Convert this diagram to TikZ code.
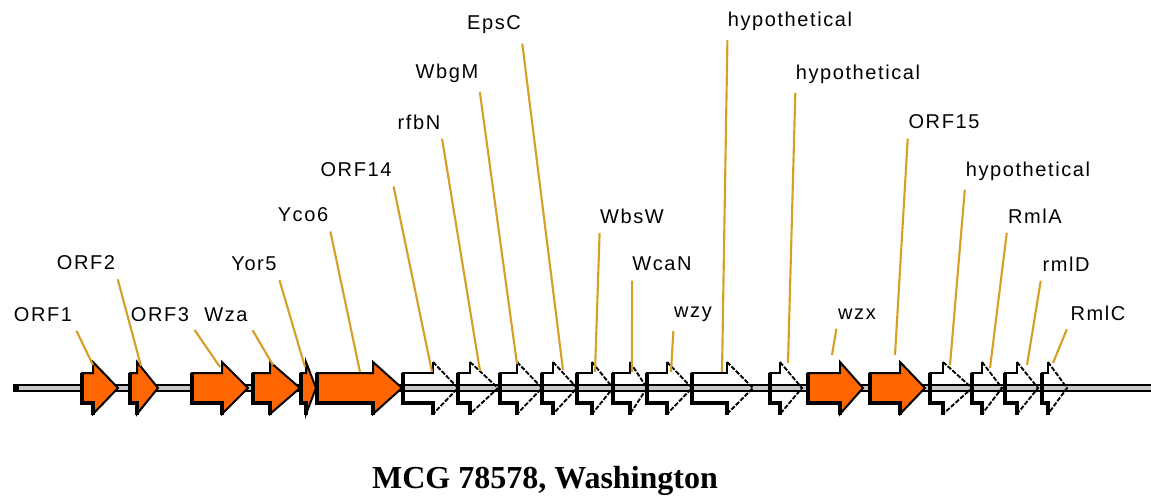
\documentclass[tikz,border=0pt]{standalone}
\usepackage{fontspec}
\setmainfont{Liberation Serif}
\newfontfamily\lblfont[LetterSpace=8]{Liberation Sans}
\usetikzlibrary{positioning}
\definecolor{orf}{RGB}{255,102,0}
\definecolor{lead}{RGB}{214,160,40}
\definecolor{axisgray}{RGB}{200,200,200}

\begin{document}
\begin{tikzpicture}[x=0.75pt, y=-0.75pt,
  lbl/.style={font=\lblfont\fontsize{15}{15}\selectfont, inner sep=0pt},
  leader/.style={lead, line width=1.6pt, shorten <=7pt},
  gene/.style={draw=black, line width=1.5pt, line join=miter},
  shade/.style={line width=2.6pt, line join=miter},
  headline/.style={line width=1.4pt, dash pattern=on 3.5pt off 1.2pt}]
\useasboundingbox (0,0) rectangle (1151,497);

% backbone
\draw[line width=5.4pt] (13,388) -- (1151,388);
\draw[axisgray, line width=2.4pt] (19,388) -- (1151,388);

% orange genes: start / head start / tip
\foreach \a/\b/\c in {82/93/118, 130/137/158, 192/222/248, 253/270/300,
    301/306/316, 317/373/402, 808/840/863, 870/900/925}{
  \draw[gene, fill=orf] (\a,373) -- (\b,373) -- (\b,362) -- (\c,388)
    -- (\b,414) -- (\b,403) -- (\a,403) -- cycle;
  \draw[shade] (\a,373) -- (\a,403) -- (\b,403) -- (\b,415);
}

% open genes
\foreach \a/\b/\c in {403/433/458, 458/470/498, 500/517/542, 542/553/577,
    577/592/613, 613/630/647, 647/667/692, 692/727/753, 770/780/802,
    930/943/972, 972/982/1002, 1005/1017/1038, 1042/1048/1067}{
  \draw[gene] (\b,362) -- (\b,373) -- (\a,373) -- (\a,403) -- (\b,403) -- (\b,414);
  \draw[shade] (\a,373) -- (\a,403) -- (\b,403) -- (\b,415);
  \draw[headline] (\b,362) -- (\c,388) -- (\b,414);
}

% leader ends on the genes
\foreach \n/\x/\y in {1/93/365, 2/141/366, 3/220/367, 4/273/365, 5/305/367,
    6/360/372, 7/432/372, 8/480/371, 9/517/364, 10/563/370, 11/595/372,
    12/632/372, 13/671/372, 14/722/372, 15/788/363, 16/832/355, 17/895/355,
    18/950/365, 19/990/368, 20/1027/365, 21/1053/363}
  \coordinate (g\n) at (\x,\y);

% labels
\node[lbl] (l1) at (43,315) {ORF1};
\node[lbl] (l2) at (86,263) {ORF2};
\node[lbl] (l3) at (160,315) {ORF3};
\node[lbl] (l4) at (226,315) {Wza};
\node[lbl] (l5) at (254,264) {Yor5};
\node[lbl] (l6) at (303,215) {Yco6};
\node[lbl] (l7) at (356,170) {ORF14};
\node[lbl] (l8) at (419,122) {rfbN};
\node[lbl] (l9) at (447,73) {WbgM};
\node[lbl] (l10) at (494,25) {EpsC};
\node[lbl] (l11) at (632,216) {WbsW};
\node[lbl] (l12) at (662,264) {WcaN};
\node[lbl] (l13) at (693,314) {wzy};
\node[lbl] (l14) at (790,21) {hypothetical};
\node[lbl] (l15) at (858,74) {hypothetical};
\node[lbl] (l16) at (857,314) {wzx};
\node[lbl] (l17) at (944,122) {ORF15};
\node[lbl] (l18) at (1028,171) {hypothetical};
\node[lbl] (l19) at (1035,216) {RmlA};
\node[lbl] (l20) at (1066,264) {rmlD};
\node[lbl] (l21) at (1098,313) {RmlC};

% leaders
\foreach \n/\c in {1/south east, 2/south east, 3/south east, 4/south east,
    5/south east, 6/south east, 7/south east, 8/south east, 9/south east,
    10/south east, 11/south west, 12/south west, 13/south west, 14/south west,
    15/south west, 16/south west, 17/south west, 18/south west, 19/south west,
    20/south west, 21/south west}
  \draw[leader] (l\n.\c) -- (g\n);

\node[font=\bfseries\fontsize{24}{24}\selectfont] (title) at (545,481) {MCG 78578, Washington};
\end{tikzpicture}
\end{document}
